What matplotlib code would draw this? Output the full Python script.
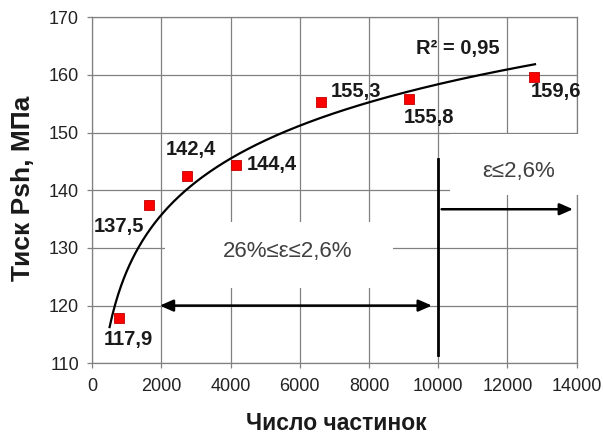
import numpy as np
import matplotlib
matplotlib.use("Agg")
import matplotlib.pyplot as plt
from matplotlib.patches import Rectangle, FancyArrowPatch

plt.rcParams['font.family'] = ['Liberation Sans', 'DejaVu Sans']

# ---- data ----
particles = [770, 1630, 2740, 4160, 6600, 9170, 12760]
pressure = [117.9, 137.5, 142.4, 144.4, 155.3, 155.8, 159.6]
point_labels = ["117,9", "137,5", "142,4", "144,4", "155,3", "155,8", "159,6"]
x_ticks = [0, 2000, 4000, 6000, 8000, 10000, 12000, 14000]
y_ticks = [110, 120, 130, 140, 150, 160, 170]
r2_text = "R² = 0,95"
zone1_text = "26%≤ε≤2,6%"
zone2_text = "ε≤2,6%"
x_title = "Число частинок"
y_title = "Тиск Psh, МПа"
boundary = 10000

# label placement (offset pixels, alignment)
label_style = [
    ((9, -22), 'center'),
    ((-30, -22), 'center'),
    ((4, 27), 'center'),
    ((11, 0), 'left'),
    ((10, 10), 'left'),
    ((-6, -18), 'left'),
    ((-3, -14), 'left'),
]

W, H = 603, 434
fig = plt.figure(figsize=(W / 100, H / 100), dpi=100)
x0, x1, y0, y1 = 92.3, 576.5, 17.1, 363.3
ax = fig.add_axes([x0 / W, 1 - y1 / H, (x1 - x0) / W, (y1 - y0) / H])

gray = '#808080'
ax.set_xlim(0, 14000)
ax.set_ylim(110, 170)
ax.set_xticks(x_ticks)
ax.set_yticks(y_ticks)
ax.set_axisbelow(True)
ax.grid(True, color=gray, lw=0.9)
for s in ax.spines.values():
    s.set_color(gray)
    s.set_linewidth(0.9)
ax.tick_params(axis='both', direction='out', length=3.6, width=0.9, color=gray,
               labelsize=13, labelcolor='#222222')
ax.tick_params(axis='x', pad=7)
ax.tick_params(axis='y', pad=6)

# trend line (logarithmic fit of the data)
a, b = np.polyfit(np.log(particles), pressure, 1)
xs = np.linspace(500, 12800, 300)
ax.plot(xs, a * np.log(xs) + b, color='black', lw=1.6, zorder=3)

ax.plot(particles, pressure, 's', ms=6.5, color='#ff0000', mec='#c00000',
        mew=0.6, zorder=4, linestyle='none')

for xv, yv, lab, (off, ha) in zip(particles, pressure, point_labels, label_style):
    ax.annotate(lab, (xv, yv), xytext=off, textcoords='offset pixels',
                ha=ha, va='center', fontsize=14.5, fontweight='bold',
                color='#1a1a1a', zorder=5)

ax.text(9373, 164.6, r2_text, ha='left', va='center', fontsize=14.5,
        fontweight='bold', color='#1a1a1a', zorder=5)

# zone boxes (white backgrounds hiding grid)
ax.add_patch(Rectangle((2100, 123.0), 6600, 11.5, facecolor='white',
                       edgecolor='none', zorder=1))
ax.add_patch(Rectangle((10350, 139.1), 3750, 10.6, facecolor='white',
                       edgecolor='none', zorder=2.6, clip_on=False))
ax.text(5640, 129.3, zone1_text, ha='center', va='center', fontsize=16,
        color='#404040', zorder=5)
ax.text(12337, 143.2, zone2_text, ha='center', va='center', fontsize=16,
        color='#404040', zorder=5)

# boundary line and arrows
ax.plot([boundary, boundary], [111.4, 145.4], color='black', lw=2.0, zorder=4)
ax.add_patch(FancyArrowPatch((1950, 120), (9820, 120),
                             arrowstyle='<|-|>,head_length=0.8,head_width=0.35',
                             mutation_scale=10, color='black', lw=1.8,
                             shrinkA=0, shrinkB=0, zorder=4))
ax.add_patch(FancyArrowPatch((10100, 136.7), (13900, 136.7),
                             arrowstyle='-|>,head_length=0.8,head_width=0.35',
                             mutation_scale=10, color='black', lw=1.8,
                             shrinkA=0, shrinkB=0, zorder=4))

fig.text(336 / W, 1 - 423 / H, x_title, ha='center', va='center',
         fontsize=16.5, fontweight='bold', color='#1a1a1a')
fig.text(23 / W, 1 - 188 / H, y_title, ha='center', va='center', rotation=90,
         fontsize=19, fontweight='bold', color='#1a1a1a')

fig.savefig('out.png', dpi=100)
